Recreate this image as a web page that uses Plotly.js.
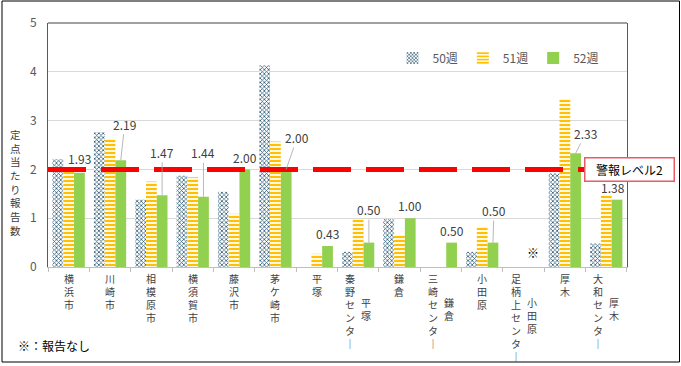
<!DOCTYPE html>
<html><head><meta charset="utf-8">
<script src="https://cdn.plot.ly/plotly-3.0.1.min.js"></script>
<style>body{margin:0;background:#fff}#c{width:681px;height:366px}</style>
</head><body><div id="c"></div>
<script>
// ---- data ----
const categories = ["横浜市","川崎市","相模原市","横須賀市","藤沢市","茅ケ崎市","平塚","秦野センター 平塚","鎌倉","三崎センター 鎌倉","小田原","足柄上センター 小田原","厚木","大和センター 厚木"];
const seriesNames = ["50週","51週","52週"];
const week50 = [2.21,2.76,1.38,1.87,1.54,4.13,null,0.31,0.98,null,0.31,null,1.92,0.48];
const week51 = [2.00,2.63,1.75,1.84,1.09,2.57,0.27,0.98,0.66,null,0.83,null,3.45,1.48];
const week52 = [1.93,2.19,1.47,1.44,2.00,2.00,0.43,0.50,1.00,0.50,0.50,null,2.33,1.38];
const alertLevel = 2;
const alertLabel = "警報レベル2";
const yTitle = "定点当たり報告数";
const yTicks = [0,1,2,3,4,5];
const noReportMark = "※";
const noReportIndex = 11;
const footnote = "※：報告なし";

// ---- style ----
const FONT = '"Noto Sans CJK JP", "Noto Sans", sans-serif';
const BARGAP = 0.22;
// label offsets for 52週 value labels (px): dx, dy, leader line
const labelOffsets = [
  [0,-14,false],[4,-36,true],[0,-43,true],[0,-44,true],[0,-12,false],[11,-32,true],
  [0,-13,false],[0,-33,true],[0,-13,false],[0,-12,false],[1,-32,true],null,[10,-20,true],[-4,-12,false]
];
const W = 579, H = 244; // plot area px
const px = v => v / W, py = v => v / H;

const vert = s => s.split('').map(c => c === 'ー' ? '｜' : c).join('<br>');

const traces = [
  {type:'bar', name:seriesNames[0], x:categories, y:week50,
   marker:{color:'#ffffff', line:{width:0}, pattern:{shape:'x', fgcolor:'#2c5a74', bgcolor:'#ffffff', size:3, solidity:0.45}}},
  {type:'bar', name:seriesNames[1], x:categories, y:week51,
   marker:{color:'#ffffff', line:{width:0}, pattern:{shape:'-', fgcolor:'#ffc000', bgcolor:'#ffffff', size:4, solidity:0.55}}},
  {type:'bar', name:seriesNames[2], x:categories, y:week52,
   marker:{color:'#92d050', line:{width:0}}}
];

const ann = [];
const greenOff = (1 - BARGAP) / 3;
week52.forEach((v, i) => {
  const o = labelOffsets[i];
  if (v === null || !o) return;
  const base = {x: i + greenOff, y: v, xref:'x', yref:'y', text: v.toFixed(2),
    font:{family:FONT, size:12, color:'#404040'}};
  if (o[2]) {
    ann.push(Object.assign(base, {showarrow:true, arrowhead:0, arrowwidth:0.8, arrowcolor:'#a6a6a6',
      ax:o[0], ay:o[1], standoff:0}));
  } else {
    ann.push(Object.assign(base, {showarrow:false, xshift:o[0], yshift:-o[1]}));
  }
});

// category labels (stacked vertical text)
categories.forEach((c, i) => {
  const parts = c.split(' ');
  if (parts.length === 1) {
    ann.push({x:i, y:py(-2), xref:'x', yref:'paper', yanchor:'top', xanchor:'center', showarrow:false,
      text:vert(parts[0]), font:{family:FONT, size:10, color:'#404040'}});
  } else {
    ann.push({x:i, y:py(-2), xref:'x', yref:'paper', yanchor:'top', xanchor:'center', showarrow:false, xshift:-8,
      text:vert(parts[0]), font:{family:FONT, size:10, color:'#404040'}});
    ann.push({x:i, y:py(-26), xref:'x', yref:'paper', yanchor:'top', xanchor:'center', showarrow:false, xshift:8,
      text:vert(parts[1]), font:{family:FONT, size:10, color:'#404040'}});
  }
});

// y title (stacked)
ann.push({x:px(-33), y:py(85), xref:'paper', yref:'paper', xanchor:'center', yanchor:'middle', showarrow:false,
  text:vert(yTitle), font:{family:FONT, size:10.5, color:'#404040'}});

// no report mark
ann.push({x:noReportIndex, y:0.3, xref:'x', yref:'y', showarrow:false, xshift:9, text:noReportMark,
  font:{family:FONT, size:12, color:'#000'}});

// footnote
ann.push({x:px(-32), y:py(-78), xref:'paper', yref:'paper', xanchor:'left', yanchor:'middle', showarrow:false,
  text:footnote, font:{family:FONT, size:12, color:'#000'}});

// alert label box
ann.push({x:px(581), y:alertLevel, xref:'paper', yref:'y', xanchor:'center', yanchor:'middle', showarrow:false,
  text:alertLabel, font:{family:FONT, size:12, color:'#000'}, bgcolor:'#ffffff', bordercolor:'#ea5a66',
  borderwidth:1.5, width:86, height:20, borderpad:1});

const shapes = [
  {type:'line', xref:'paper', yref:'y', x0:0, x1:1, y0:alertLevel, y1:alertLevel, layer:'above',
   line:{color:'#ff0000', width:5, dash:'38px,15px'}},
  {type:'line', xref:'paper', yref:'paper', x0:0, x1:1, y0:1, y1:1, line:{color:'#404040', width:1}},
  {type:'rect', xref:'paper', yref:'paper', x0:px(-46), x1:px(631.5), y0:py(-95), y1:py(266), line:{color:'#000', width:1}}
];

const layout = {
  width:681, height:366,
  margin:{l:48, r:54, t:23, b:99, pad:0},
  paper_bgcolor:'#fff', plot_bgcolor:'#fff',
  font:{family:FONT, color:'#595959'},
  barmode:'group', bargap:BARGAP, bargroupgap:0,
  showlegend:true,
  legend:{orientation:'h', x:0.595, y:py(209), xanchor:'left', yanchor:'middle', font:{family:FONT, size:12, color:'#595959'},
    itemwidth:30, bgcolor:'rgba(0,0,0,0)', traceorder:'normal'},
  xaxis:{type:'category', showticklabels:false, showline:true, linecolor:'#bfbfbf', linewidth:1,
    ticks:'outside', ticklen:4, tickcolor:'#bfbfbf', tickson:'boundaries', showgrid:false, fixedrange:true},
  yaxis:{range:[0,5], tickvals:yTicks, showline:true, linecolor:'#595959', mirror:true, linewidth:1,
    gridcolor:'#d9d9d9', gridwidth:1, zeroline:false, ticks:'', ticklabelstandoff:8,
    tickfont:{family:FONT, size:12, color:'#595959'}, fixedrange:true},
  annotations:ann, shapes:shapes
};

Plotly.newPlot('c', traces, layout, {displayModeBar:false, staticPlot:true});
</script></body></html>
